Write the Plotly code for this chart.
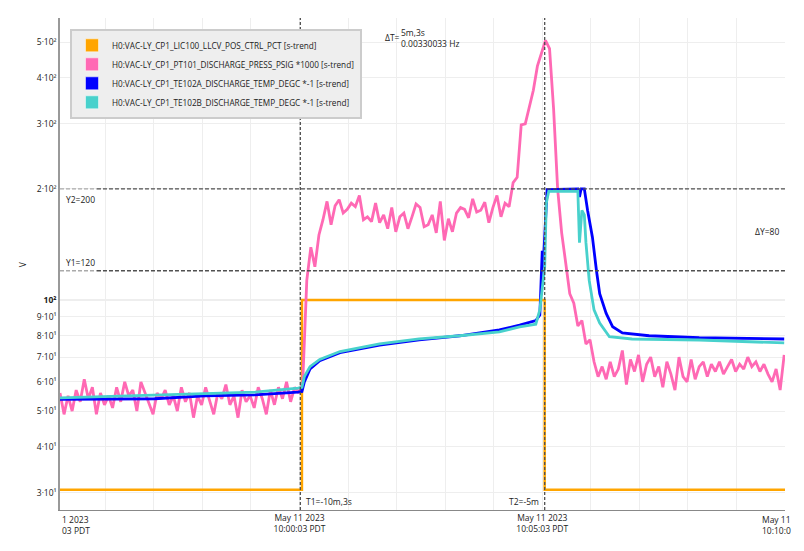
import pandas as pd
import plotly.graph_objects as go

t0 = pd.Timestamp("2023-05-11 09:55:07")

names = ["H0:VAC-LY_CP1_LIC100_LLCV_POS_CTRL_PCT [s-trend]",
         "H0:VAC-LY_CP1_PT101_DISCHARGE_PRESS_PSIG *1000 [s-trend]",
         "H0:VAC-LY_CP1_TE102A_DISCHARGE_TEMP_DEGC *-1 [s-trend]",
         "H0:VAC-LY_CP1_TE102B_DISCHARGE_TEMP_DEGC *-1 [s-trend]"]
colors = ["#FFA500", "#FF69B4", "#0000FF", "#48D1CC"]

# valve position (step)
lic_sec = [0, 299, 599, 896]
lic_val = [30.6, 100, 30.6, 30.6]

# pressure, sampled every 5 s
pt_val = [56, 49, 55, 50, 57, 53, 61, 54, 58, 49,
          56, 52, 55, 51, 58, 53, 60, 55, 57, 50,
          60, 56, 52, 49, 56, 54, 57, 52, 55, 50,
          58, 53, 56, 48, 55, 52, 58, 53, 49, 56,
          54, 59, 52, 55, 48, 57, 53, 55, 51, 58,
          54, 49, 57, 52, 58, 54, 60, 53, 58, 56,
          60,
          113, 139, 123, 150, 165, 185, 160, 180, 187, 172,
          176, 183, 179, 192, 165, 168, 163, 183, 162, 170,
          156, 178, 153, 168, 172, 156, 168, 182, 178, 158,
          160, 170, 152, 185, 145, 166, 153, 172, 178, 176,
          167, 188, 173, 175, 184, 162, 178, 192, 168, 183,
          179, 208, 215, 298, 300, 335, 370, 430, 470, 505,
          480, 330, 200, 152, 126, 104, 98, 85, 88, 76,
          78, 68, 62, 66, 61, 68, 62, 65, 73, 59,
          69, 64, 71, 60, 67, 70, 62, 66, 58, 68,
          63, 57, 70, 62, 60, 69, 61, 66, 68, 62,
          67, 64, 68, 63, 66, 69, 64, 67, 65, 70,
          66, 68, 64, 67, 63, 60, 65, 57, 71]
pt_step = 5

# temperatures
te_a_sec = [0, 117, 179, 241, 294, 299, 302, 309, 321, 346, 395, 444, 494, 543,
            568, 580, 588, 593, 595, 596, 597, 599, 602, 640, 642, 644, 648, 652,
            658, 663, 667, 675, 683, 695, 728, 790, 895]
te_a_val = [53.8, 54.0, 55.0, 55.3, 56.3, 56.5, 60, 65, 68.5, 72, 75.5, 78, 80, 83,
            85.5, 87, 88, 91, 120, 136, 122, 155, 199, 200, 190, 200, 200, 175,
            148, 120, 104, 92, 84.6, 81.4, 80, 79, 78.4]

te_b_sec = [0, 117, 241, 294, 299, 302, 309, 321, 346, 395, 444, 494, 543, 568,
            588, 593, 599, 601, 604, 640, 642, 645, 648, 650, 654, 660, 667, 679,
            707, 790, 895]
te_b_val = [54.3, 55.3, 56.3, 57.7, 58, 62, 66, 69, 72.5, 76, 78.5, 80, 82, 84.5,
            86, 94, 123, 183, 197, 197, 143, 175, 170, 143, 113, 94, 86.6, 79.5,
            78.4, 77.9, 76.5]

# cursors
t1 = pd.Timestamp("2023-05-11 10:00:04")
t2 = pd.Timestamp("2023-05-11 10:05:06")
y1, y2 = 120, 200

x_ticks = [pd.Timestamp("2023-05-11 10:00:03"), pd.Timestamp("2023-05-11 10:05:03")]
x_ticktext = ["May 11 2023<br>10:00:03 PDT", "May 11 2023<br>10:05:03 PDT"]
y_ticks = [30, 40, 50, 60, 70, 80, 90, 100, 200, 300, 400, 500]
y_ticktext = ["3·10¹", "4·10¹", "5·10¹", "6·10¹", "7·10¹", "8·10¹", "9·10¹",
              "<b>10²</b>", "2·10²", "3·10²", "4·10²", "5·10²"]


def sec_to_time(secs):
    return [t0 + pd.Timedelta(seconds=s) for s in secs]


pt_time = sec_to_time([i * pt_step for i in range(len(pt_val))])

fig = go.Figure()
fig.add_trace(go.Scatter(x=sec_to_time(lic_sec), y=lic_val, mode="lines", line_shape="hv",
                         line=dict(color=colors[0], width=2.5), showlegend=False))
fig.add_trace(go.Scatter(x=pt_time, y=pt_val, mode="lines",
                         line=dict(color=colors[1], width=2.8), showlegend=False))
fig.add_trace(go.Scatter(x=sec_to_time(te_a_sec), y=te_a_val, mode="lines",
                         line=dict(color=colors[2], width=2.8), showlegend=False))
fig.add_trace(go.Scatter(x=sec_to_time(te_b_sec), y=te_b_val, mode="lines",
                         line=dict(color=colors[3], width=2.8), showlegend=False))

# legend entries with square swatches
for n, c in zip(names, colors):
    fig.add_trace(go.Scatter(x=[None], y=[None], mode="markers", name=n,
                             marker=dict(symbol="square", size=13, color=c,
                                         line=dict(color="rgba(255,255,255,0.5)", width=1))))

dash_col = "#505050"
fig.add_shape(type="line", x0=t1, x1=t1, y0=0, y1=1, yref="paper",
              line=dict(color=dash_col, width=1.3, dash="3px,2px"))
fig.add_shape(type="line", x0=t2, x1=t2, y0=0, y1=1, yref="paper",
              line=dict(color=dash_col, width=1.3, dash="3px,2px"))
for yv in (y1, y2):
    fig.add_shape(type="line", x0=0, x1=0.051, xref="paper", y0=yv, y1=yv,
                  line=dict(color="#aaaaaa", width=1.3, dash="4px,2px"))
    fig.add_shape(type="line", x0=0.051, x1=1, xref="paper", y0=yv, y1=yv,
                  line=dict(color=dash_col, width=1.3, dash="4px,2px"))
fig.add_shape(type="line", x0=0, x1=1, xref="paper", y0=100, y1=100,
              line=dict(color="#dddddd", width=1), layer="below")

f = dict(family="Open Sans", size=8.5, color="#222222")
ann = [
    dict(x=0.006, y=0.632, text="Y2=%d" % y2, xanchor="left"),
    dict(x=0.006, y=0.504, text="Y1=%d" % y1, xanchor="left"),
    dict(x=0.9945, y=0.567, text="ΔY=%d" % (y2 - y1), xanchor="right"),
    dict(x=0.3366, y=0.018, text="T1=-10m,3s", xanchor="left"),
    dict(x=0.6634, y=0.018, text="T2=-5m", xanchor="right"),
    dict(x=0.4455, y=0.961, text="ΔT=", xanchor="left"),
    dict(x=0.468, y=0.960, text="5m,3s<br>0.00330033 Hz", xanchor="left", align="left"),
    dict(x=0.0, y=-0.031, text="1 2023<br>03 PDT", xanchor="left", align="left"),
    dict(x=0.9655, y=-0.031, text="May 11<br>10:10:0", xanchor="left", align="left"),
    dict(x=-0.052, y=0.50, text="V", xanchor="center", textangle=-90),
]
for a in ann:
    fig.add_annotation(xref="paper", yref="paper", yanchor="middle", showarrow=False,
                       font=f, **a)

# page body has an 8px margin, so the figure is a little smaller and offset
fig.update_layout(
    width=796, height=543,
    margin=dict(l=52, r=19, t=10, b=41),
    plot_bgcolor="white", paper_bgcolor="white",
    font=f,
    legend=dict(x=0.0138, y=0.978, xanchor="left", yanchor="top",
                bgcolor="#eeeeee", bordercolor="#cccccc", borderwidth=2,
                font=dict(family="Open Sans", size=8.2, color="#222222"),
                itemsizing="trace", tracegroupgap=0),
    xaxis=dict(type="date", automargin=False,
               range=[t0, pd.Timestamp("2023-05-11 10:10:03")],
               tickmode="array", tickvals=x_ticks, ticktext=x_ticktext,
               showgrid=True, gridcolor="#eeeeee", ticks="",
               minor=dict(dtick=60000, tick0="2023-05-11 09:55:03",
                          showgrid=True, gridcolor="#eeeeee"),
               showline=True, linecolor="#888888", linewidth=1,
               zeroline=False, tickfont=f),
    yaxis=dict(type="log", automargin=False, range=[1.431, 2.764],
               tickmode="array", tickvals=y_ticks, ticktext=y_ticktext,
               showgrid=True, gridcolor="#eeeeee", ticks="",
               showline=True, linecolor="#999999", linewidth=1.5,
               tickfont=f),
)

fig.write_html("out.html")
